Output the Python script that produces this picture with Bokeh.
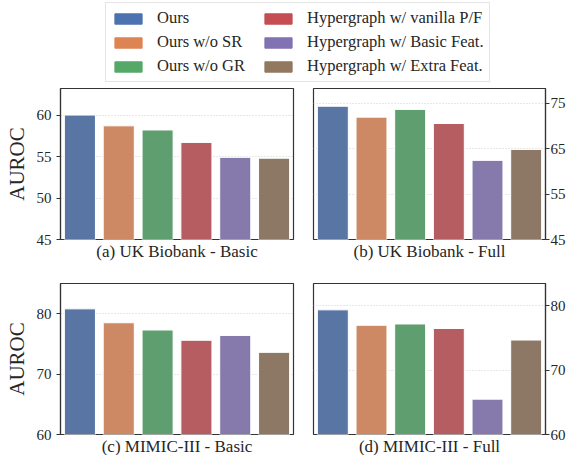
from bokeh.plotting import figure
from bokeh.models import Range1d, FixedTicker, Legend, LegendItem, ColumnDataSource
from bokeh.layouts import column, row
from bokeh.embed import file_html
from bokeh.resources import INLINE

methods = ["Ours", "Ours w/o SR", "Ours w/o GR", "Hypergraph w/ vanilla P/F",
           "Hypergraph w/ Basic Feat.", "Hypergraph w/ Extra Feat."]
legend_colors = ["#4c72b0", "#dd8452", "#55a868", "#c44e52", "#8172b3", "#937860"]
bar_colors = ["#5875a4", "#cc8963", "#5f9e6e", "#b55d60", "#857aab", "#8d7866"]

ukb_basic = [60.0, 58.7, 58.2, 56.7, 54.9, 54.8]
ukb_full = [74.3, 71.9, 73.6, 70.5, 62.4, 64.8]
mimic_basic = [80.8, 78.5, 77.3, 75.6, 76.4, 73.6]
mimic_full = [79.4, 77.0, 77.2, 76.5, 65.5, 74.7]

titles = ["(a) UK Biobank - Basic", "(b) UK Biobank - Full",
          "(c) MIMIC-III - Basic", "(d) MIMIC-III - Full"]
ticks_ukb_basic = [45, 50, 55, 60]
ticks_ukb_full = [45, 55, 65, 75]
ticks_mimic = [60, 70, 80]

FONT = "Liberation Serif"
DARK = "#333333"
TXT = "#262626"


def panel(vals, lo, hi, ticks, title, side, w, h, bl, br, bt, bb, ylabel=None):
    p = figure(x_range=methods, y_range=Range1d(lo, hi), width=w, height=h,
               output_backend="svg", toolbar_location=None, y_axis_location=side,
               min_border_left=bl, min_border_right=br, min_border_top=bt,
               min_border_bottom=bb, title=title, title_location="below")
    p.x_range.range_padding = 0
    src = ColumnDataSource(dict(m=methods, v=vals, c=bar_colors))
    p.vbar(x="m", top="v", bottom=lo, width=0.8, fill_color="c",
           line_color="white", line_width=1, source=src)
    p.outline_line_color = DARK
    p.outline_line_width = 1.2
    p.xaxis.visible = False
    p.xgrid.visible = False
    p.ygrid.ticker = FixedTicker(ticks=ticks)
    p.ygrid.grid_line_color = "#d0d0d0"
    p.ygrid.grid_line_dash = "1 2"
    p.ygrid.grid_line_width = 1

    t = p.title
    t.align = "center"
    t.text_font = FONT
    t.text_font_size = "17px"
    t.text_font_style = "normal"
    t.text_color = TXT
    t.standoff = 0
    t.offset = 0

    ya = p.yaxis[0]
    ya.ticker = FixedTicker(ticks=ticks)
    ya.minor_tick_line_color = None
    ya.major_tick_in = 0
    ya.major_tick_out = 4
    ya.major_tick_line_color = DARK
    ya.axis_line_color = DARK
    ya.axis_line_width = 1.2
    ya.major_label_text_font = FONT
    ya.major_label_text_font_size = "15px"
    ya.major_label_text_color = TXT
    ya.major_label_standoff = 5 if side == "left" else 1
    if ylabel:
        ya.axis_label = ylabel
        ya.axis_label_text_font = FONT
        ya.axis_label_text_font_size = "21px"
        ya.axis_label_text_font_style = "normal"
        ya.axis_label_text_color = TXT
        ya.axis_label_standoff = 5
    return p


pa = panel(ukb_basic, 45, 63.2, ticks_ukb_basic, titles[0], "left", 303, 184, 60, 10, 2, 31, "AUROC")
pb = panel(ukb_full, 45, 78.2, ticks_ukb_full, titles[1], "right", 265, 184, 10, 22, 2, 31)
pc = panel(mimic_basic, 60, 85, ticks_mimic, titles[2], "left", 303, 185, 60, 10, 13, 21, "AUROC")
pd_ = panel(mimic_full, 60, 83.5, ticks_mimic, titles[3], "right", 265, 185, 10, 22, 13, 21)

# legend figure
lf = figure(width=568, height=86, output_backend="svg", toolbar_location=None,
            x_range=Range1d(0, 1), y_range=Range1d(0, 1),
            min_border_left=0, min_border_right=0, min_border_top=0, min_border_bottom=0)
lf.axis.visible = False
lf.grid.visible = False
lf.outline_line_color = None
items = []
for name, col in zip(methods, legend_colors):
    r = lf.vbar(x=[10], top=[10], bottom=[9], width=0.8, fill_color=col, line_color=col)
    items.append(LegendItem(label=name, renderers=[r]))
leg = Legend(items=items, location=(105, 4), orientation="vertical", nrows=3,
             glyph_width=34, glyph_height=13, label_standoff=12, spacing=4,
             padding=5, margin=0, label_height=19, label_width=100,
             label_text_font=FONT, label_text_font_size="16.5px",
             label_text_color=TXT, border_line_color="#cccccc",
             border_line_width=1, background_fill_color="white")
lf.add_layout(leg, "center")

layout = column(lf, row(pa, pb), row(pc, pd_))
open("out.html", "w").write(file_html(layout, INLINE))
